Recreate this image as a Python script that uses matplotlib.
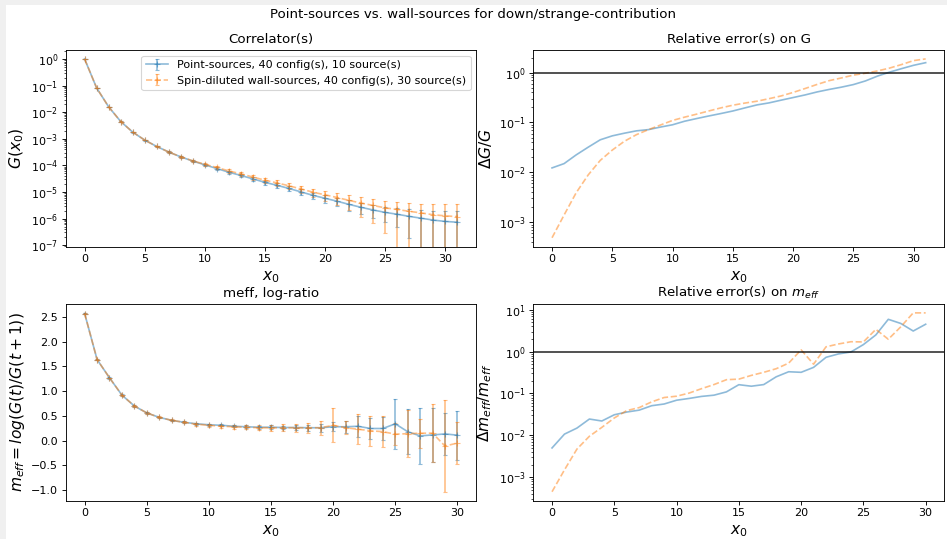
import numpy as np
import matplotlib
matplotlib.use("Agg")
import matplotlib.pyplot as plt
from matplotlib.patches import Rectangle
from matplotlib.ticker import LogLocator, MultipleLocator

# time slices
t_G = np.arange(32)
t_m = np.arange(31)

# correlators, log10
logG_point = [0.0, -1.09, -1.80, -2.35, -2.75, -3.05, -3.29, -3.50, -3.68, -3.84,
              -3.98, -4.12, -4.26, -4.38, -4.51, -4.64, -4.75, -4.87, -5.00, -5.13,
              -5.24, -5.35, -5.47, -5.58, -5.68, -5.77, -5.84, -5.92, -5.99, -6.06,
              -6.11, -6.14]
logG_wall = [0.0, -1.09, -1.80, -2.35, -2.75, -3.05, -3.29, -3.50, -3.68, -3.83,
             -3.96, -4.08, -4.21, -4.32, -4.44, -4.56, -4.66, -4.77, -4.89, -5.01,
             -5.11, -5.21, -5.32, -5.42, -5.51, -5.60, -5.66, -5.73, -5.79, -5.86,
             -5.90, -5.93]

# relative errors on G
relG_point = [0.0123, 0.015, 0.0224, 0.032, 0.045, 0.054, 0.061, 0.068, 0.072, 0.081,
              0.09, 0.106, 0.12, 0.135, 0.151, 0.17, 0.196, 0.225, 0.247, 0.28,
              0.316, 0.357, 0.41, 0.46, 0.51, 0.575, 0.68, 0.85, 1.02, 1.2,
              1.4, 1.58]
relG_wall = [4.9e-4, 1.4e-3, 3.9e-3, 8.9e-3, 0.0174, 0.028, 0.042, 0.057, 0.072, 0.089,
             0.11, 0.128, 0.147, 0.17, 0.196, 0.222, 0.245, 0.267, 0.30, 0.34,
             0.40, 0.48, 0.58, 0.69, 0.78, 0.89, 0.97, 1.08, 1.23, 1.45,
             1.74, 1.88]

# effective masses
meff_point = [2.57, 1.64, 1.27, 0.92, 0.70, 0.56, 0.47, 0.41, 0.37, 0.34,
              0.32, 0.31, 0.29, 0.28, 0.27, 0.27, 0.265, 0.265, 0.26, 0.26,
              0.28, 0.28, 0.29, 0.245, 0.245, 0.34, 0.18, 0.095, 0.115, 0.135,
              0.11]
meff_wall = [2.57, 1.64, 1.27, 0.92, 0.70, 0.56, 0.47, 0.41, 0.37, 0.33,
             0.31, 0.29, 0.28, 0.27, 0.26, 0.26, 0.26, 0.26, 0.26, 0.26,
             0.31, 0.26, 0.23, 0.20, 0.18, 0.13, 0.14, 0.15, 0.15, -0.11,
             -0.05]

# relative errors on meff
relm_point = [0.005, 0.0107, 0.0149, 0.0245, 0.022, 0.031, 0.036, 0.04, 0.051, 0.056,
              0.069, 0.076, 0.085, 0.091, 0.109, 0.162, 0.149, 0.163, 0.25, 0.33,
              0.32, 0.42, 0.73, 0.88, 0.98, 1.47, 2.5, 5.9, 4.7, 3.1,
              4.5]
relm_wall = [4.5e-4, 1.5e-3, 4.7e-3, 9.5e-3, 0.0155, 0.026, 0.039, 0.046, 0.063, 0.08,
             0.086, 0.102, 0.13, 0.163, 0.213, 0.22, 0.27, 0.32, 0.39, 0.53,
             1.1, 0.5, 1.3, 1.52, 1.72, 1.70, 3.4, 1.97, 3.9, 8.4,
             8.4]

labels = ["Point-sources, 40 config(s), 10 source(s)",
          "Spin-diluted wall-sources, 40 config(s), 30 source(s)"]

G_point = 10 ** np.array(logG_point)
G_wall = 10 ** np.array(logG_wall)
errG_point = G_point * np.array(relG_point)
errG_wall = G_wall * np.array(relG_wall)
errm_point = np.abs(meff_point) * np.array(relm_point)
errm_wall = np.abs(meff_wall) * np.array(relm_wall)

plt.rcParams["axes.labelsize"] = 14

# the original was rendered at a lower resolution, so draw at 80 dpi
DPI = 80
fig = plt.figure(figsize=(947 / DPI, 539 / DPI), dpi=DPI, facecolor="#f0f0f0")
fig.patches.append(Rectangle((6 / 947, 0), 1, 1 - 5 / 539, transform=fig.transFigure,
                             facecolor="white", edgecolor="none", zorder=-1))

ax1 = fig.add_axes([0.0697, 0.5423, 0.433, 0.365])
ax2 = fig.add_axes([0.5632, 0.5423, 0.434, 0.365])
ax3 = fig.add_axes([0.0697, 0.0711, 0.433, 0.365])
ax4 = fig.add_axes([0.5632, 0.0711, 0.434, 0.365])

fig.suptitle("Point-sources vs. wall-sources for down/strange-contribution", y=0.985)

style = dict(marker="+", capsize=2, alpha=0.5)

# correlators
ax1.errorbar(t_G, G_point, yerr=errG_point, ls="-", label=labels[0], **style)
ax1.errorbar(t_G, G_wall, yerr=errG_wall, ls="--", label=labels[1], **style)
ax1.set_yscale("log")
ax1.set_ylim(8.7e-8, 2.2)
ax1.yaxis.set_major_locator(LogLocator(base=10, numticks=12))
ax1.set_title("Correlator(s)")
ax1.set_xlabel("$x_0$")
ax1.set_ylabel("$G(x_0)$")
ax1.legend(loc="upper right")

# relative error on G
ax2.plot(t_G, relG_point, ls="-", alpha=0.5)
ax2.plot(t_G, relG_wall, ls="--", alpha=0.5)
ax2.axhline(1, color="k", alpha=0.8)
ax2.set_yscale("log")
ax2.set_title("Relative error(s) on G")
ax2.set_xlabel("$x_0$")
ax2.set_ylabel(r"$\Delta G/G$")

# effective mass
ax3.errorbar(t_m, meff_point, yerr=errm_point, ls="-", **style)
ax3.errorbar(t_m, meff_wall, yerr=errm_wall, ls="--", **style)
ax3.yaxis.set_major_locator(MultipleLocator(0.5))
ax3.set_title("meff, log-ratio")
ax3.set_xlabel("$x_0$")
ax3.set_ylabel("$m_{eff} = log(G(t)/G(t+1))$")

# relative error on meff
ax4.plot(t_m, relm_point, ls="-", alpha=0.5)
ax4.plot(t_m, relm_wall, ls="--", alpha=0.5)
ax4.axhline(1, color="k", alpha=0.8)
ax4.set_yscale("log")
ax4.set_title("Relative error(s) on $m_{eff}$")
ax4.set_xlabel("$x_0$")
ax4.set_ylabel(r"$\Delta m_{eff}/m_{eff}$")

fig.savefig("out.png", dpi=DPI, facecolor=fig.get_facecolor())
